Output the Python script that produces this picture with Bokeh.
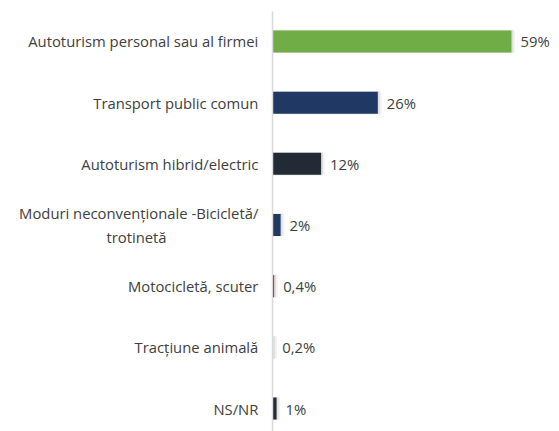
from bokeh.plotting import figure
from bokeh.models import ColumnDataSource, Range1d
from bokeh.core.properties import value
from bokeh.embed import file_html
from bokeh.resources import INLINE

categories = [
    "Autoturism personal sau al firmei",
    "Transport public comun",
    "Autoturism hibrid/electric",
    "Moduri neconvenționale -Bicicletă/\ntrotinetă",
    "Motocicletă, scuter",
    "Tracțiune animală",
    "NS/NR",
]
values = [59, 26, 12, 2, 0.4, 0.2, 1]
value_labels = ["59%", "26%", "12%", "2%", "0,4%", "0,2%", "1%"]
colors = ["#70AD47", "#203864", "#222A35", "#203864", "#C00000", "#E7E6E6", "#222A35"]

pos = list(range(len(categories)))
LINE_GAP = 0.19  # half spacing of wrapped lines, in category units

first_y, first_txt, second_y, second_txt = [], [], [], []
for i, c in enumerate(categories):
    parts = c.split("\n")
    if len(parts) == 1:
        first_y.append(i)
        first_txt.append(c)
    else:
        first_y.append(i - LINE_GAP)
        first_txt.append(parts[0])
        second_y.append(i + LINE_GAP)
        second_txt.append(parts[1])

src = ColumnDataSource(dict(
    y=pos,
    v=values,
    zero=[0] * len(values),
    lab=value_labels,
    color=colors,
    sh1=[v + 0.45 for v in values],
    sh2=[v + 0.9 for v in values],
))
cat_src = ColumnDataSource(dict(y=first_y, cat=first_txt))
cat2_src = ColumnDataSource(dict(y=second_y, cat=second_txt, x=[-41.0] * len(second_y)))

W, H = 559, 431
p = figure(width=W, height=H, output_backend="svg", toolbar_location=None,
           x_range=Range1d(-67.16, 70.86), y_range=Range1d(6.376, -0.67),
           min_border=0, min_border_left=0, min_border_right=0,
           min_border_top=0, min_border_bottom=0)
p.xaxis.visible = False
p.yaxis.visible = False
p.xgrid.visible = False
p.ygrid.visible = False
p.outline_line_color = None
p.background_fill_color = "white"
p.border_fill_color = "white"

bh = 0.36
# soft shadow to the right
p.hbar(y="y", right="sh2", left="zero", height=bh, source=src,
       fill_color="#000000", fill_alpha=0.05, line_color=None)
p.hbar(y="y", right="sh1", left="zero", height=bh + 0.02, source=src,
       fill_color="#000000", fill_alpha=0.08, line_color=None)

p.hbar(y="y", right="v", left="zero", height=bh, source=src,
       fill_color="color", line_color=None)

# axis line
p.segment(x0=[0], y0=[-0.49], x1=[0], y1=[6.5], line_color="#D9D9D9", line_width=1.5)

FONT = value("Open Sans")
FS = "14.8px"
# category labels
p.text(x=-3.5, y="y", text="cat", source=cat_src, text_align="right",
       text_baseline="middle", text_font=FONT,
       text_font_size=FS, text_color="#404040")
p.text(x="x", y="y", text="cat", source=cat2_src, text_align="left",
       text_baseline="middle", text_font=FONT,
       text_font_size=FS, text_color="#404040")

# value labels
p.text(x="v", y="y", text="lab", source=src, text_align="left",
       text_baseline="middle", x_offset=9, text_font=FONT,
       text_font_size=FS, text_color="#404040")

open("out.html", "w").write(file_html(p, INLINE))
